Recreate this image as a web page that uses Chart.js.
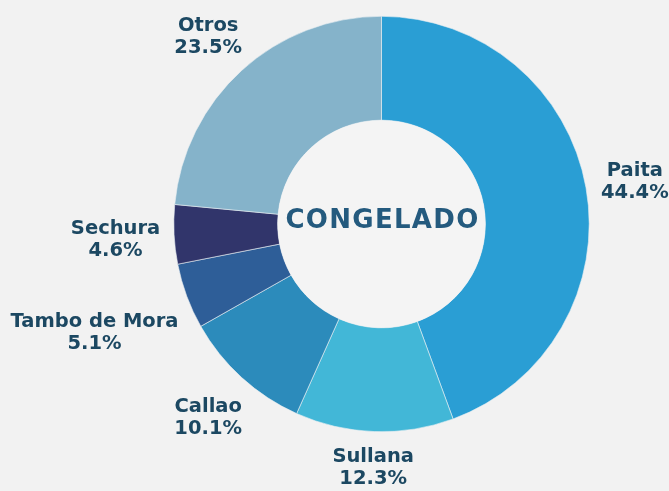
<!DOCTYPE html>
<html>
<head>
<meta charset="utf-8">
<script src="https://cdn.jsdelivr.net/npm/chart.js@4.4.1/dist/chart.umd.min.js"></script>
<style>
  html, body { margin: 0; padding: 0; background: #f2f2f2; }
  #wrap { width: 669px; height: 491px; }
</style>
</head>
<body>
<div id="wrap"><canvas id="donut" width="669" height="491"></canvas></div>
<script>
const labels = ['Paita', 'Sullana', 'Callao', 'Tambo de Mora', 'Sechura', 'Otros'];
const shares = [44.4, 12.3, 10.1, 5.1, 4.6, 23.5];
const colors = ['#2a9ed4', '#42b7d7', '#2c8bbb', '#2e5e98', '#31356b', '#85b3ca'];
const centerText = 'CONGELADO';

const textColor = '#1c4862';
const fontStack = '"DejaVu Sans", sans-serif';

// labels outside the ring, pushed out along the slice's middle angle
const outsideLabels = {
    id: 'outsideLabels',
    afterDatasetsDraw(chart) {
        const ctx = chart.ctx;
        const arcs = chart.getDatasetMeta(0).data;
        ctx.save();
        ctx.font = 'bold 19.5px ' + fontStack;
        ctx.fillStyle = textColor;
        ctx.textAlign = 'center';
        ctx.textBaseline = 'middle';
        arcs.forEach((arc, i) => {
            const mid = (arc.startAngle + arc.endAngle) / 2;
            const ux = Math.cos(mid), uy = Math.sin(mid);
            const l1 = labels[i], l2 = shares[i].toFixed(1) + '%';
            const halfW = Math.max(ctx.measureText(l1).width, ctx.measureText(l2).width) / 2;
            const halfH = 19;
            const off = 13 + halfW * Math.abs(ux) + halfH * Math.abs(uy);
            const cx = arc.x + ux * (arc.outerRadius + off);
            const cy = arc.y + uy * (arc.outerRadius + off) + 3;
            ctx.fillText(l1, cx, cy - 11);
            ctx.fillText(l2, cx, cy + 11);
        });
        ctx.restore();
    }
};

const centerLabel = {
    id: 'centerLabel',
    afterDatasetsDraw(chart) {
        const ctx = chart.ctx;
        const arc = chart.getDatasetMeta(0).data[0];
        ctx.save();
        ctx.beginPath();
        ctx.arc(arc.x, arc.y, arc.innerRadius, 0, Math.PI * 2);
        ctx.fillStyle = '#f4f4f4';
        ctx.fill();
        ctx.font = 'bold 26px ' + fontStack;
        ctx.letterSpacing = '1.3px';
        ctx.fillStyle = '#245a7e';
        ctx.textAlign = 'center';
        ctx.textBaseline = 'middle';
        ctx.fillText(centerText, arc.x + 1, arc.y - 3);
        ctx.restore();
    }
};

new Chart(document.getElementById('donut').getContext('2d'), {
    type: 'doughnut',
    data: {
        labels: labels,
        datasets: [{
            data: shares,
            backgroundColor: colors,
            borderColor: '#e8eef2',
            borderWidth: 0.6
        }]
    },
    options: {
        responsive: false,
        animation: false,
        cutout: '50%',
        layout: { padding: { left: 173.5, right: 79.5, top: 16, bottom: 59 } },
        plugins: {
            legend: { display: false },
            tooltip: { enabled: false }
        }
    },
    plugins: [centerLabel, outsideLabels]
});
</script>
</body>
</html>
